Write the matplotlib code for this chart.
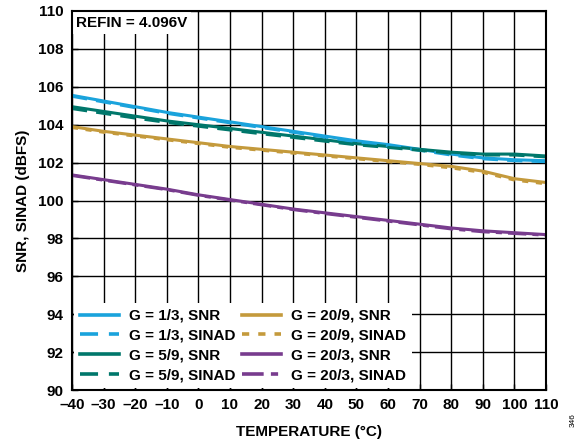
import matplotlib
matplotlib.use("Agg")
import matplotlib.pyplot as plt
import numpy as np

plt.rcParams['font.family'] = ['Liberation Sans', 'DejaVu Sans']
plt.rcParams['font.weight'] = 'bold'

temp = [-40, -30, -20, -10, 0, 10, 20, 30, 40, 50, 60, 70, 80, 90, 100, 110]

g13_snr   = [105.55, 105.25, 104.95, 104.65, 104.40, 104.15, 103.90, 103.65, 103.40, 103.15, 102.95, 102.70, 102.45, 102.25, 102.15, 102.10]
g13_sinad = [105.50, 105.20, 104.90, 104.60, 104.35, 104.10, 103.85, 103.60, 103.35, 103.10, 102.90, 102.65, 102.40, 102.20, 102.10, 102.05]
g59_snr   = [104.95, 104.70, 104.45, 104.20, 104.00, 103.80, 103.60, 103.40, 103.20, 103.00, 102.85, 102.70, 102.55, 102.45, 102.45, 102.35]
g59_sinad = [104.85, 104.60, 104.35, 104.12, 103.92, 103.72, 103.52, 103.33, 103.13, 102.94, 102.80, 102.65, 102.50, 102.40, 102.40, 102.30]
g209_snr   = [103.90, 103.65, 103.45, 103.25, 103.05, 102.85, 102.70, 102.55, 102.40, 102.25, 102.10, 101.95, 101.80, 101.55, 101.15, 100.95]
g209_sinad = [103.85, 103.60, 103.40, 103.20, 103.00, 102.80, 102.65, 102.50, 102.35, 102.20, 102.05, 101.90, 101.72, 101.48, 101.08, 100.88]
g203_snr   = [101.35, 101.10, 100.85, 100.60, 100.30, 100.05, 99.80, 99.55, 99.35, 99.15, 98.95, 98.75, 98.55, 98.40, 98.30, 98.20]
g203_sinad = [101.32, 101.07, 100.82, 100.57, 100.27, 100.02, 99.77, 99.52, 99.31, 99.11, 98.91, 98.71, 98.50, 98.35, 98.26, 98.17]

labels = ["G = 1/3, SNR", "G = 1/3, SINAD", "G = 5/9, SNR", "G = 5/9, SINAD",
          "G = 20/9, SNR", "G = 20/9, SINAD", "G = 20/3, SNR", "G = 20/3, SINAD"]

xticks = list(range(-40, 111, 10))
xticklabels = [("\u2013" + str(-t)) if t < 0 else str(t) for t in xticks]
yticks = list(range(90, 111, 2))

c_blue = '#1AA3DC'
c_teal = '#00776B'
c_gold = '#C49A3C'
c_purp = '#783C8E'

FS = 11

fig = plt.figure(figsize=(5.87, 4.46), dpi=100)
ax = fig.add_axes([72/587, 1-390/446, (546-72)/587, (390-11)/446])

lw = 2.2
series = [
    (g13_snr, c_blue, '-'),
    (g13_sinad, c_blue, (0, (5, 3))),
    (g59_snr, c_teal, '-'),
    (g59_sinad, c_teal, (0, (5, 3))),
    (g209_snr, c_gold, '-'),
    (g209_sinad, c_gold, (0, (2, 2.5))),
    (g203_snr, c_purp, '-'),
    (g203_sinad, c_purp, (0, (6, 2, 2, 2))),
]
order = [0, 2, 4, 6, 1, 3, 5, 7]
handles = [None] * 8
for i in order:
    vals, col, ls = series[i]
    h, = ax.plot(temp, vals, color=col, linestyle=ls, linewidth=lw, zorder=3)
    handles[i] = h

ax.set_xlim(-40, 110)
ax.set_ylim(90, 110)
ax.set_xticks(xticks)
ax.set_xticklabels(xticklabels)
ax.set_yticks(yticks)
ax.grid(True, color='black', linewidth=1.0, zorder=1)
ax.set_axisbelow(True)
ax.tick_params(direction='in', length=4, width=1, labelsize=FS, pad=6)
for lab in ax.get_xticklabels() + ax.get_yticklabels():
    lab.set_fontweight('bold')
for s in ax.spines.values():
    s.set_linewidth(1.5)
    s.set_zorder(5)

ax.set_xlabel("TEMPERATURE (°C)", fontsize=FS, fontweight='bold', labelpad=9)
ax.set_ylabel("SNR, SINAD (dBFS)", fontsize=FS, fontweight='bold', labelpad=6)

ax.text(0.008, 0.988, "REFIN = 4.096V", transform=ax.transAxes, ha='left', va='top',
        fontsize=FS, fontweight='bold', zorder=4,
        bbox=dict(facecolor='white', edgecolor='none', pad=3))

leg = ax.legend(handles, labels, ncol=2, loc='lower left', frameon=True,
                fontsize=FS, handlelength=2.55, handletextpad=0.65, columnspacing=0.45,
                labelspacing=0.38, borderaxespad=0.1, borderpad=0.4,
                fancybox=False)
leg.get_frame().set_edgecolor('none')
leg.get_frame().set_facecolor('white')
leg.get_frame().set_alpha(1)
for t in leg.get_texts():
    t.set_fontweight('bold')
for h in leg.get_lines():
    h.set_linewidth(2.6)

fig.text(573/587, 1-420/446, "346", rotation=90, fontsize=6, fontweight='normal',
         ha='center', va='center')

fig.savefig("out.png", dpi=100)
